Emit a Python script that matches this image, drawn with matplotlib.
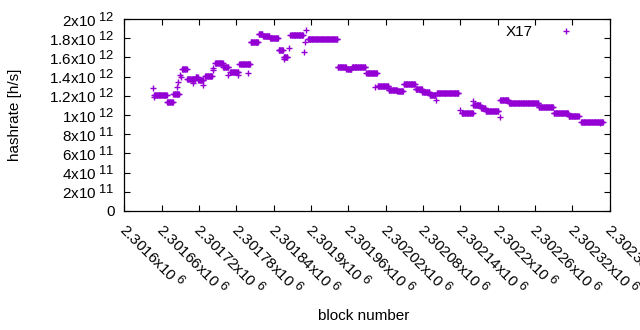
import numpy as np
import matplotlib
matplotlib.use('Agg')
import matplotlib.pyplot as plt
import matplotlib.transforms as mtransforms
from matplotlib.ticker import FuncFormatter, MultipleLocator

# gnuplot draws its exponents nearly full size, mathtext shrinks them to 0.7
try:
    import matplotlib._mathtext as _mt
    _mt.SHRINK_FACTOR = 0.85
except (ImportError, AttributeError):
    pass

plt.rcParams['font.family'] = ['Liberation Sans', 'DejaVu Sans']
plt.rcParams['mathtext.fontset'] = 'custom'
plt.rcParams['mathtext.rm'] = 'Liberation Sans'
plt.rcParams['mathtext.default'] = 'regular'

# runs of blocks with a constant hashrate (block offset from 2301600, hashrate in 1e12 h/s)
seg_start = [48, 69, 79, 93, 101, 115, 119, 130, 146, 159, 170, 185, 203, 216, 223, 234,
             248, 256, 267, 295, 343, 357, 366, 389, 407, 425, 439, 449, 468, 479, 491,
             502, 542, 561, 573, 581, 604, 618, 666, 690, 714, 734]
seg_end = [68, 78, 88, 100, 114, 118, 127, 141, 158, 167, 183, 202, 215, 222, 233, 247,
           255, 262, 287, 342, 356, 365, 387, 406, 424, 438, 448, 467, 478, 490, 500,
           537, 560, 572, 580, 601, 617, 665, 689, 713, 730, 769]
seg_value = [1.205, 1.132, 1.222, 1.476, 1.372, 1.40, 1.365, 1.403, 1.538, 1.495, 1.45,
             1.53, 1.757, 1.848, 1.82, 1.80, 1.672, 1.607, 1.833, 1.789, 1.497, 1.48,
             1.497, 1.434, 1.298, 1.26, 1.25, 1.323, 1.272, 1.243, 1.212, 1.228, 1.026,
             1.10, 1.07, 1.042, 1.156, 1.122, 1.08, 1.026, 0.993, 0.93]

# isolated points
single_block = [46, 47, 84, 87, 90, 91, 111, 127, 142, 143, 167, 183, 199, 257, 265,
                288, 291, 292, 403, 501, 539, 560, 604, 765]
single_value = [1.278, 1.19, 1.295, 1.347, 1.417, 1.40, 1.33, 1.31, 1.47, 1.49, 1.417,
                1.417, 1.434, 1.58, 1.70, 1.66, 1.757, 1.885, 1.295, 1.156, 1.05, 1.146,
                0.982, 0.913]

base_block = 2301600

blocks = []
rates = []
for s, e, v in zip(seg_start, seg_end, seg_value):
    b = np.arange(s, e + 1)
    blocks.append(b)
    rates.append(np.full(len(b), v))
blocks.append(np.array(single_block))
rates.append(np.array(single_value))
blocks = np.concatenate(blocks) + base_block
rates = np.concatenate(rates) * 1e12


def sci_fmt(v, pos=None):
    if v == 0:
        return '0'
    exp = int(np.floor(np.log10(abs(v)) + 1e-9))
    mant = v / 10 ** exp
    return '{:g}x10$^{{\\;{}}}$'.format(round(mant, 6), exp)


fig = plt.figure(figsize=(6.4, 3.3), dpi=100)
ax = fig.add_axes([124.3 / 640, 1 - 211 / 330, 485.4 / 640, 192 / 330])

ax.plot(blocks, rates, '+', color='#9400d3', markersize=5, markeredgewidth=1.0, label='X17')

ax.set_xlim(2301600, 2302380)
ax.set_ylim(0, 2e12)
ax.xaxis.set_major_locator(MultipleLocator(60))
ax.yaxis.set_major_locator(MultipleLocator(2e11))
ax.xaxis.set_major_formatter(FuncFormatter(sci_fmt))
ax.yaxis.set_major_formatter(FuncFormatter(sci_fmt))

ax.tick_params(direction='in', length=4, width=0.8, top=True, right=True, labelsize=11,
               colors='black')
ax.tick_params(axis='y', pad=7)
ax.tick_params(axis='x', pad=0)
for sp in ax.spines.values():
    sp.set_linewidth(0.9)

# rotated block labels: baseline starts a little left of and below the tick
shift = mtransforms.ScaledTranslation(-7 / 100, -20 / 100, fig.dpi_scale_trans)
for lbl in ax.get_xticklabels():
    lbl.set_rotation(-45)
    lbl.set_ha('left')
    lbl.set_va('baseline')
    lbl.set_rotation_mode('anchor')
    lbl.set_transform(lbl.get_transform() + shift)

ax.set_xlabel('block number', fontsize=11)
ax.xaxis.set_label_coords(0.494, -0.547)
ax.xaxis.label.set_va('center')
ax.set_ylabel('hashrate [h/s]', fontsize=11)
ax.yaxis.set_label_coords(-0.226, 0.5)
ax.yaxis.label.set_va('center')

ax.legend(loc='upper right', bbox_to_anchor=(0.955, 1.0), frameon=False, markerfirst=False,
          handletextpad=1.2, borderaxespad=0, fontsize=11)

fig.savefig('out.png', dpi=100)
plt.close()
